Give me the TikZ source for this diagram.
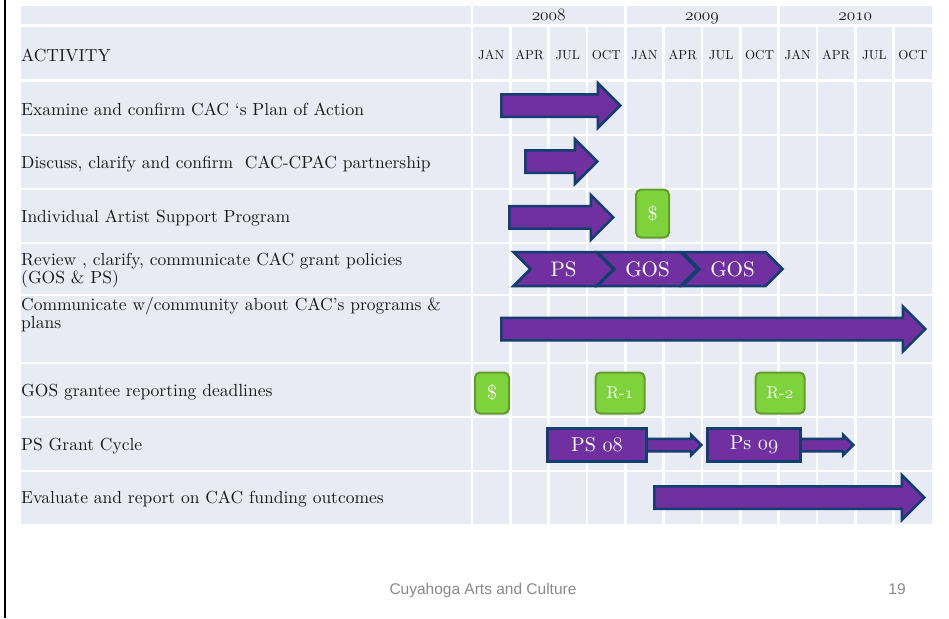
\documentclass[tikz,border=0pt]{standalone}
\usepackage{fontspec}
\setmainfont{lmroman10-regular.otf}
\newfontfamily\footfont{Liberation Sans}
\usetikzlibrary{shapes.arrows,shapes.symbols}

\definecolor{cellbg}{RGB}{233,235,244}
\definecolor{barfill}{RGB}{112,48,160}
\definecolor{barline}{RGB}{18,62,112}
\definecolor{chipfill}{RGB}{126,210,60}
\definecolor{chipline}{RGB}{98,156,42}
\definecolor{footgray}{RGB}{137,137,137}
\definecolor{inkdark}{RGB}{25,25,25}

% old style figures from the math italic font
\newcommand{\ofig}[1]{{\fontencoding{OML}\fontfamily{lmm}\fontshape{it}\selectfont #1}}

\begin{document}
\begin{tikzpicture}[x=1pt,y=-1pt,
  gridline/.style={white,line width=2.5pt},
  act/.style={anchor=base west,inner sep=0pt,text=inkdark,font=\fontsize{17.5}{16}\selectfont},
  month/.style={anchor=base,inner sep=0pt,text=inkdark,font=\fontsize{13}{15}\selectfont},
  year/.style={anchor=base,inner sep=0pt,text=inkdark,font=\fontsize{16}{18}\selectfont},
  bar/.style={single arrow,single arrow head extend=11.25pt,inner xsep=0pt,inner ysep=10pt,
    fill=barfill,draw=barline,line width=2.5pt,anchor=tail},
  thinbar/.style={single arrow,single arrow head extend=4pt,inner xsep=0pt,inner ysep=5pt,
    fill=barfill,draw=barline,line width=2.5pt,anchor=tail},
  chevron/.style={signal,signal to=east,signal from=west,minimum width=100pt,minimum height=34pt,
    inner sep=0pt,fill=barfill,draw=barline,line width=2.5pt,text=white,font=\fontsize{21}{24}\selectfont},
  cycle box/.style={rectangle,fill=barfill,draw=barline,line width=2.5pt,minimum height=33pt,
    inner sep=0pt,text=white,font=\fontsize{20}{24}\selectfont},
  chip/.style={rectangle,rounded corners=5pt,fill=chipfill,draw=chipline,line width=2pt,
    inner sep=0pt,text=white,font=\fontsize{17}{19}\selectfont},
  foot/.style={anchor=base,inner sep=0pt,text=footgray,font=\footfont\fontsize{15.5}{18}\selectfont}]

  \useasboundingbox (0,0) rectangle (949,618);
  \draw[line width=2.5pt] (5,0) -- (5,618);

  % table body
  \fill[cellbg] (21,6) rectangle (932,524);
  \draw[gridline]
    (21,25.7) -- (932,25.7)
    (21,80.7) -- (932,80.7)
    (21,135) -- (932,135)
    (21,189) -- (932,189)
    (21,243) -- (932,243)
    (21,295) -- (932,295)
    (21,363) -- (932,363)
    (21,417) -- (932,417)
    (21,471) -- (932,471)
    (472,6) -- (472,524)
    (625.3,6) -- (625.3,524)
    (778.7,6) -- (778.7,524)
    (510.3,25.7) -- (510.3,524)
    (548.7,25.7) -- (548.7,524)
    (587,25.7) -- (587,524)
    (663.7,25.7) -- (663.7,524)
    (702,25.7) -- (702,524)
    (740.3,25.7) -- (740.3,524)
    (817,25.7) -- (817,524)
    (855.3,25.7) -- (855.3,524)
    (893.7,25.7) -- (893.7,524);

  % heading
  \node[year] (y08) at (548.7,20.5) {\ofig{2008}};
  \node[year] (y09) at (702,20.5) {\ofig{2009}};
  \node[year] (y10) at (855.3,20.5) {\ofig{2010}};

  \node[act] (head) at (21,61) {ACTIVITY};
  \node[month] (m1) at (491.2,59.5) {JAN};
  \node[month] (m2) at (529.5,59.5) {APR};
  \node[month] (m3) at (567.8,59.5) {JUL};
  \node[month] (m4) at (606.2,59.5) {OCT};
  \node[month] (m5) at (644.5,59.5) {JAN};
  \node[month] (m6) at (682.8,59.5) {APR};
  \node[month] (m7) at (721.2,59.5) {JUL};
  \node[month] (m8) at (759.5,59.5) {OCT};
  \node[month] (m9) at (797.8,59.5) {JAN};
  \node[month] (m10) at (836.2,59.5) {APR};
  \node[month] (m11) at (874.5,59.5) {JUL};
  \node[month] (m12) at (912.8,59.5) {OCT};

  % activities
  \node[act] (r1) at (21,115) {Examine and confirm CAC `s Plan of Action};
  \node[act] (r2) at (21,168) {Discuss, clarify and confirm\ \ CAC-CPAC partnership};
  \node[act] (r3) at (21,222) {Individual Artist Support Program};
  \node[act,align=left] (r4) at (21,283) {Review , clarify, communicate CAC grant policies\\(GOS \& PS)};
  \node[act,align=left] (r5) at (21,328) {Communicate w/community about CAC's programs \&\\plans};
  \node[act] (r6) at (21,396) {GOS grantee reporting deadlines};
  \node[act] (r7) at (21,450.5) {PS Grant Cycle};
  \node[act] (r8) at (21,503.5) {Evaluate and report on CAC funding outcomes};

  % bars
  \node[bar,minimum height=119pt] (b1) at (500,105.5) {};
  \node[bar,minimum height=72pt] (b2) at (524,161.5) {};
  \node[bar,minimum height=104pt] (b3) at (508,217.3) {};
  \node[chip,minimum width=33pt,minimum height=48pt] (s1) at (652.5,213.6) {\fontsize{20}{22}\selectfont\$};

  \node[chevron] (c1) at (563.5,269) {PS};
  \node[chevron] (c2) at (647.5,269) {GOS};
  \node[chevron] (c3) at (732.5,269) {GOS};

  \node[bar,minimum height=424pt] (b5) at (500,329) {};

  \node[chip,minimum width=34pt,minimum height=41pt] (s2) at (492,393) {\fontsize{20}{22}\selectfont\$};
  \node[chip,minimum width=49pt,minimum height=41pt] (rep1) at (620,393) {R-\ofig{1}};
  \node[chip,minimum width=49pt,minimum height=41pt] (rep2) at (780,393) {R-\ofig{2}};

  \node[thinbar,minimum height=61pt] (t1) at (639,445) {};
  \node[cycle box,minimum width=99pt] (ps08) at (597,445) {PS \ofig{08}};
  \node[thinbar,minimum height=60pt] (t2) at (792,445) {};
  \node[cycle box,minimum width=93pt] (ps09) at (754,445) {Ps \ofig{09}};

  \node[bar,minimum height=270pt] (b8) at (653,497.5) {};

  % footer
  \node[foot] (org) at (483,594) {Cuyahoga Arts and Culture};
  \node[foot] (page) at (897,594) {19};
\end{tikzpicture}
\end{document}
